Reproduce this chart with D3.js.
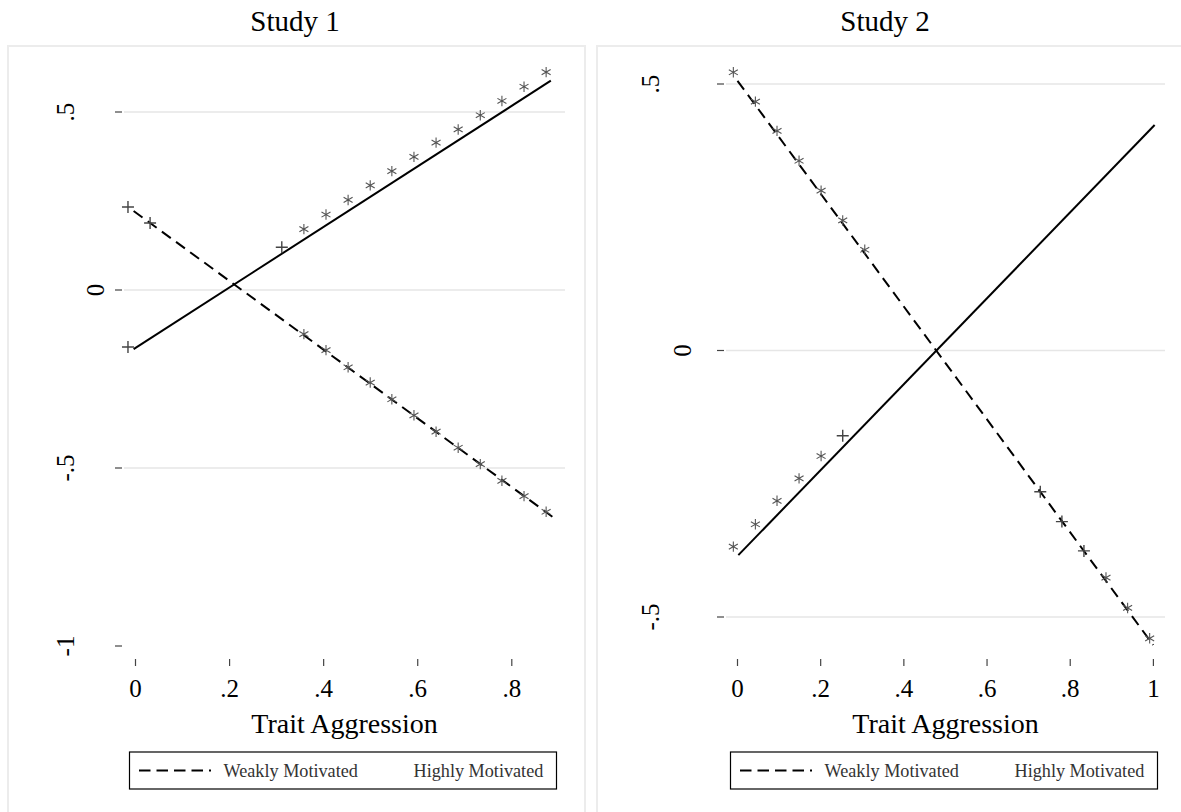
<!DOCTYPE html>
<html>
<head>
<meta charset="utf-8">
<script src="https://cdn.jsdelivr.net/npm/d3@7"></script>
<style>
  body { margin: 0; background: #fff; }
  svg { display: block; }
  text { font-family: "Liberation Serif", "Times New Roman", serif; }
</style>
</head>
<body>
<svg id="chart" width="1181" height="812"></svg>
<script>
// ---- Study 1 ----
const study1XTicks = [0, 0.2, 0.4, 0.6, 0.8];
const study1XLabels = ["0", ".2", ".4", ".6", ".8"];
const study1YTicks = [-1, -0.5, 0, 0.5];
const study1YLabels = ["-1", "-.5", "0", ".5"];
const study1Grid = [-0.5, 0, 0.5];
const study1WeakLine = [[-0.004, 0.222], [0.8875, -0.638]];
const study1HighLine = [[-0.004, -0.166], [0.883, 0.588]];
const study1WeakMarkX = [-0.016, 0.031, 0.358, 0.405, 0.452, 0.499, 0.545, 0.592, 0.639, 0.686, 0.733, 0.779, 0.826, 0.873];
const study1WeakMarkY = [0.233, 0.188, -0.124, -0.169, -0.217, -0.260, -0.307, -0.352, -0.398, -0.443, -0.489, -0.536, -0.579, -0.623];
const study1WeakMarkSym = ["+", "+", "*", "*", "*", "*", "*", "*", "*", "*", "*", "*", "*", "*"];
const study1HighMarkX = [-0.016, 0.311, 0.358, 0.405, 0.452, 0.499, 0.545, 0.592, 0.639, 0.686, 0.733, 0.779, 0.826, 0.873];
const study1HighMarkY = [-0.160, 0.120, 0.171, 0.212, 0.253, 0.294, 0.334, 0.374, 0.414, 0.451, 0.491, 0.531, 0.571, 0.612];
const study1HighMarkSym = ["+", "+", "*", "*", "*", "*", "*", "*", "*", "*", "*", "*", "*", "*"];

// ---- Study 2 ----
const study2XTicks = [0, 0.2, 0.4, 0.6, 0.8, 1];
const study2XLabels = ["0", ".2", ".4", ".6", ".8", "1"];
const study2YTicks = [-0.5, 0, 0.5];
const study2YLabels = ["-.5", "0", ".5"];
const study2Grid = [-0.5, 0, 0.5];
const study2WeakLine = [[0.0, 0.506], [0.9995, -0.5525]];
const study2HighLine = [[0.002, -0.384], [1.003, 0.423]];
const study2WeakMarkX = [-0.010, 0.043, 0.095, 0.148, 0.201, 0.253, 0.306, 0.728, 0.780, 0.833, 0.886, 0.938, 0.991];
const study2WeakMarkY = [0.522, 0.467, 0.412, 0.356, 0.300, 0.244, 0.189, -0.265, -0.321, -0.376, -0.426, -0.483, -0.540];
const study2WeakMarkSym = ["*", "*", "*", "*", "*", "*", "*", "+", "+", "+", "*", "*", "*"];
const study2HighMarkX = [-0.010, 0.043, 0.095, 0.148, 0.201, 0.253];
const study2HighMarkY = [-0.368, -0.326, -0.282, -0.240, -0.198, -0.160];
const study2HighMarkSym = ["*", "*", "*", "*", "*", "+"];

const titles = ["Study 1", "Study 2"];
const xTitle = "Trait Aggression";
const legendLabels = ["Weakly Motivated", "Highly Motivated"];

const svg = d3.select("#chart");

const panels = [
  {
    title: titles[0], titleX: 295,
    frame: { x0: 8, x1: 585, y0: 46 },
    plot: { x0: 124, x1: 565 },
    labelGap: { wide: 41, narrow: 11 },
    x: d3.scaleLinear().domain([0, 0.8]).range([135.5, 511.8]),
    y: d3.scaleLinear().domain([-1, 0.5]).range([646, 112]),
    xTicks: study1XTicks, xLabels: study1XLabels,
    yTicks: study1YTicks, yLabels: study1YLabels, grid: study1Grid,
    weakLine: study1WeakLine, highLine: study1HighLine,
    marks: [
      { xs: study1WeakMarkX, ys: study1WeakMarkY, sym: study1WeakMarkSym },
      { xs: study1HighMarkX, ys: study1HighMarkY, sym: study1HighMarkSym }
    ]
  },
  {
    title: titles[1], titleX: 885,
    frame: { x0: 597, x1: 1190, y0: 46 },
    plot: { x0: 726, x1: 1165 },
    labelGap: { wide: 58, narrow: 26 },
    x: d3.scaleLinear().domain([0, 1]).range([737.5, 1153.4]),
    y: d3.scaleLinear().domain([-0.5, 0.5]).range([617, 84]),
    xTicks: study2XTicks, xLabels: study2XLabels,
    yTicks: study2YTicks, yLabels: study2YLabels, grid: study2Grid,
    weakLine: study2WeakLine, highLine: study2HighLine,
    marks: [
      { xs: study2WeakMarkX, ys: study2WeakMarkY, sym: study2WeakMarkSym },
      { xs: study2HighMarkX, ys: study2HighMarkY, sym: study2HighMarkSym }
    ]
  }
];

const dashPattern = "11,6.5";

// asterisk: three strokes through the centre; plus: two strokes
function symbolPath(sym) {
  if (sym === "+") {
    const r = 6;
    return `M${-r},0L${r},0M0,${-r}L0,${r}`;
  }
  const r = 5.2;
  let p = "";
  [90, 30, 150].forEach(a => {
    const dx = r * Math.cos(a * Math.PI / 180), dy = r * Math.sin(a * Math.PI / 180);
    p += `M${-dx},${-dy}L${dx},${dy}`;
  });
  return p;
}

panels.forEach(P => {
  const g = svg.append("g");
  const plotMid = (P.plot.x0 + P.plot.x1) / 2;

  // panel frame
  g.append("rect")
    .attr("x", P.frame.x0).attr("y", P.frame.y0)
    .attr("width", P.frame.x1 - P.frame.x0).attr("height", 900)
    .attr("fill", "none").attr("stroke", "#ececec").attr("stroke-width", 2);

  // title
  g.append("text")
    .attr("x", P.titleX).attr("y", 31)
    .attr("text-anchor", "middle").attr("font-size", 29).attr("fill", "#000")
    .text(P.title);

  // gridlines
  g.selectAll(".grid").data(P.grid).join("line")
    .attr("x1", P.plot.x0).attr("x2", P.plot.x1)
    .attr("y1", d => P.y(d)).attr("y2", d => P.y(d))
    .attr("stroke", "#e6e6e6").attr("stroke-width", 1.6);

  // y axis ticks and rotated labels
  const tickRight = P.plot.x0 - 2;
  g.selectAll(".yt").data(P.yTicks).join("line")
    .attr("x1", tickRight - 7).attr("x2", tickRight)
    .attr("y1", d => P.y(d)).attr("y2", d => P.y(d))
    .attr("stroke", "#444").attr("stroke-width", 1.2);
  g.selectAll(".yl").data(P.yTicks).join("text")
    .attr("transform", (d, i) => {
      const gap = P.yLabels[i].length === 1 ? P.labelGap.narrow : P.labelGap.wide;
      return `translate(${tickRight - 7 - gap},${P.y(d)}) rotate(-90)`;
    })
    .attr("text-anchor", "middle").attr("font-size", 25).attr("fill", "#000")
    .text((d, i) => P.yLabels[i]);

  // x axis ticks and labels
  g.selectAll(".xt").data(P.xTicks).join("line")
    .attr("x1", d => P.x(d)).attr("x2", d => P.x(d))
    .attr("y1", 659).attr("y2", 666)
    .attr("stroke", "#444").attr("stroke-width", 1.2);
  g.selectAll(".xl").data(P.xTicks).join("text")
    .attr("x", d => P.x(d)).attr("y", 697)
    .attr("text-anchor", "middle").attr("font-size", 25).attr("fill", "#000")
    .text((d, i) => P.xLabels[i]);

  // x axis title
  g.append("text")
    .attr("x", plotMid).attr("y", 733)
    .attr("text-anchor", "middle").attr("font-size", 28).attr("fill", "#000")
    .text(xTitle);

  // fitted lines
  const line = d3.line().x(d => P.x(d[0])).y(d => P.y(d[1]));
  g.append("path").datum(P.highLine).attr("d", line)
    .attr("fill", "none").attr("stroke", "#000").attr("stroke-width", 2);
  g.append("path").datum(P.weakLine).attr("d", line)
    .attr("fill", "none").attr("stroke", "#000").attr("stroke-width", 2)
    .attr("stroke-dasharray", dashPattern);

  // significance markers
  P.marks.forEach(m => {
    g.selectAll(null).data(m.xs.map((x, i) => ({ x, y: m.ys[i], s: m.sym[i] })))
      .join("path")
      .attr("transform", d => `translate(${P.x(d.x)},${P.y(d.y)})`)
      .attr("d", d => symbolPath(d.s))
      .attr("fill", "none")
      .attr("stroke", d => d.s === "+" ? "#444" : "#555")
      .attr("stroke-width", d => d.s === "+" ? 1.4 : 1.1);
  });

  // legend
  const lw = 427, lx = plotMid - 1.5 - lw / 2, ly = 752, lh = 37;
  const lg = g.append("g");
  lg.append("rect").attr("x", lx).attr("y", ly).attr("width", lw).attr("height", lh)
    .attr("fill", "#fff").attr("stroke", "#000").attr("stroke-width", 1.2);
  lg.append("line")
    .attr("x1", lx + 9.5).attr("x2", lx + 81.5)
    .attr("y1", ly + lh / 2).attr("y2", ly + lh / 2)
    .attr("stroke", "#000").attr("stroke-width", 2)
    .attr("stroke-dasharray", "11.5,6");
  lg.append("text").attr("x", lx + 94).attr("y", ly + 25)
    .attr("font-size", 18.2).attr("fill", "#333").text(legendLabels[0]);
  lg.append("text").attr("x", lx + 284).attr("y", ly + 25)
    .attr("font-size", 18.2).attr("fill", "#333").text(legendLabels[1]);
});
</script>
</body>
</html>
